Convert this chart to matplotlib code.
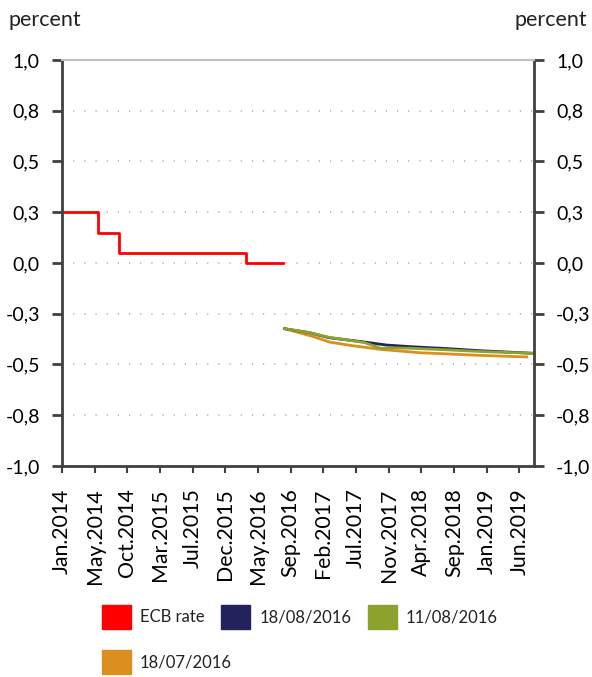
import numpy as np
import pandas as pd
import matplotlib
matplotlib.use('Agg')
import matplotlib.pyplot as plt
from matplotlib.patches import Patch

plt.rcParams['font.family'] = ['Lato', 'DejaVu Sans']
plt.rcParams['text.color'] = '#222222'

# TARGET business-day calendar used as the x axis
holidays = ['2014-01-01', '2014-04-18', '2014-04-21', '2014-05-01', '2014-12-25', '2014-12-26',
            '2015-01-01', '2015-04-03', '2015-04-06', '2015-05-01', '2015-12-25',
            '2016-01-01', '2016-03-25', '2016-03-28', '2016-12-26',
            '2017-04-14', '2017-04-17', '2017-05-01', '2017-12-25', '2017-12-26',
            '2018-01-01', '2018-03-30', '2018-04-02', '2018-05-01', '2018-12-25', '2018-12-26',
            '2019-01-01', '2019-04-19', '2019-04-22', '2019-05-01']
cal_start = '2014-01-01'
cal_end = '2019-08-28'

# ECB rate (step)
ecb_dates = ['2014-01-02', '2014-06-11', '2014-09-10', '2016-03-16', '2016-08-25']
ecb_rate = [0.25, 0.15, 0.05, 0.00, 0.00]

# forward curves
d_0818 = ['2016-09-01', '2016-12-15', '2017-03-10', '2017-08-05', '2017-11-15',
          '2018-03-01', '2018-08-15', '2019-01-02', '2019-08-26']
v_0818 = [-0.324, -0.343, -0.368, -0.388, -0.404, -0.412, -0.422, -0.432, -0.445]

d_0811 = ['2016-09-01', '2016-12-15', '2017-03-10', '2017-08-15', '2017-10-25',
          '2017-12-05', '2018-03-01', '2018-08-15', '2019-01-02', '2019-08-26']
v_0811 = [-0.324, -0.343, -0.366, -0.392, -0.421, -0.418, -0.420, -0.428, -0.436, -0.445]

d_0718 = ['2016-09-01', '2017-01-02', '2017-03-15', '2017-06-15', '2017-10-25',
          '2018-04-15', '2019-01-02', '2019-07-29']
v_0718 = [-0.324, -0.362, -0.390, -0.406, -0.426, -0.442, -0.455, -0.463]

xtick_labels = ['Jan.2014', 'May.2014', 'Oct.2014', 'Mar.2015', 'Jul.2015', 'Dec.2015',
                'May.2016', 'Sep.2016', 'Feb.2017', 'Jul.2017', 'Nov.2017', 'Apr.2018',
                'Sep.2018', 'Jan.2019', 'Jun.2019']
ytick_labels = ['-1,0', '-0,8', '-0,5', '-0,3', '0,0', '0,3', '0,5', '0,8', '1,0']

days = pd.bdate_range(cal_start, cal_end, freq='C', holidays=holidays)


def pos(dates):
    return days.searchsorted(pd.to_datetime(dates))


fig = plt.figure(figsize=(5.92, 6.77), dpi=100)
ax = fig.add_axes([0.1047, 0.3117, 0.7973, 0.5997])

ax.step(pos(ecb_dates), ecb_rate, where='post', color='#ff0000', lw=2)
ax.plot(pos(d_0718), v_0718, color='#dc8f1e', lw=2)
ax.plot(pos(d_0818), v_0818, color='#24225a', lw=2)
ax.plot(pos(d_0811), v_0811, color='#8ba32c', lw=2)

ax.set_xlim(0, len(days) - 1)
ax.set_ylim(-1, 1)

yt = np.linspace(-1, 1, 9)
for y in yt[1:-1]:
    ax.axhline(y, color='#b0b0b0', lw=1.2, ls=(0, (0.7, 6)), zorder=0)

ax.set_yticks(yt)
ax.set_yticklabels(ytick_labels)
ax.set_xticks(np.arange(len(xtick_labels)) * 100)
ax.set_xticklabels(xtick_labels, rotation=90)

ax.tick_params(axis='y', left=True, right=True, labelleft=True, labelright=True,
               length=7, width=2, color='#404040', pad=9, labelsize=14)
ax.tick_params(axis='x', length=5, width=1.5, color='#404040', pad=11, labelsize=15.3)

for s in ['left', 'right', 'bottom']:
    ax.spines[s].set_color('#404040')
    ax.spines[s].set_linewidth(2)
ax.spines['top'].set_color('#bfbfbf')
ax.spines['top'].set_linewidth(1.5)

fig.text(8 / 592, 1 - 20 / 677, 'percent', fontsize=15.5, va='center', ha='left')
fig.text(587 / 592, 1 - 20 / 677, 'percent', fontsize=15.5, va='center', ha='right')

h = [Patch(color='#ff0000', label='ECB rate'),
     Patch(color='#24225a', label='18/08/2016'),
     Patch(color='#8ba32c', label='11/08/2016'),
     Patch(color='#dc8f1e', label='18/07/2016')]
kw = dict(frameon=False, fontsize=12, handlelength=1.74, handleheight=1.86,
          handletextpad=0.54, columnspacing=1.0, borderpad=0, borderaxespad=0,
          loc='center left')
fig.legend(handles=h[:3], ncol=3, bbox_to_anchor=(102 / 592, 1 - 617 / 677), **kw)
fig.legend(handles=h[3:], ncol=1, bbox_to_anchor=(102 / 592, 1 - 662 / 677), **kw)

fig.savefig('out.png', dpi=100)
